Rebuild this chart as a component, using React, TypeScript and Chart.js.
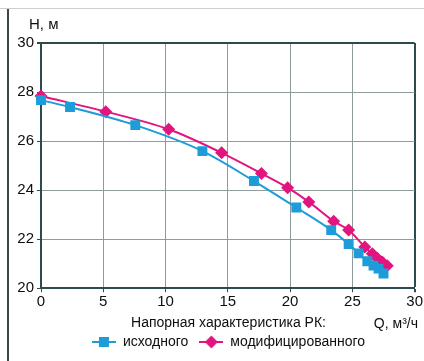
import React, { useEffect, useRef } from "react";
import { Chart, registerables } from "chart.js";

Chart.register(...registerables);

// ---- data ----
const qOriginal = [0, 2.33, 7.57, 12.96, 17.1, 20.5, 23.3, 24.7, 25.5, 26.2, 26.7, 27.1, 27.5];
const hOriginal = [27.67, 27.39, 26.65, 25.59, 24.37, 23.29, 22.37, 21.8, 21.42, 21.1, 20.92, 20.8, 20.6];
const qModified = [0, 5.2, 10.25, 14.5, 17.7, 19.8, 21.5, 23.5, 24.7, 26.0, 26.6, 27.0, 27.4, 27.8];
const hModified = [27.84, 27.2, 26.48, 25.52, 24.68, 24.1, 23.52, 22.73, 22.37, 21.68, 21.4, 21.22, 21.07, 20.92];
const xTicks = [0, 5, 10, 15, 20, 25, 30];
const yTicks = [20, 22, 24, 26, 28, 30];
const seriesLabels = ["исходного", "модифицированного"];
const legendTitle = "Напорная характеристика РК:";
const yAxisTitle = "H, м";
const xAxisTitle = "Q, м³/ч";

const BLUE = "#1c9cd8";
const PINK = "#e2147e";
const TEXT = "#0e0e0e";
const FONT = "'Liberation Sans', Arial, sans-serif";

function makeMarker(color: string, style: "rect" | "rectRot"): HTMLCanvasElement {
  const c = document.createElement("canvas");
  c.width = 24;
  c.height = 14;
  const ctx = c.getContext("2d")!;
  ctx.strokeStyle = color;
  ctx.lineWidth = 2;
  ctx.beginPath();
  ctx.moveTo(0, 7);
  ctx.lineTo(24, 7);
  ctx.stroke();
  ctx.fillStyle = color;
  if (style === "rect") {
    ctx.fillRect(12 - 5, 7 - 5, 10, 10);
  } else {
    ctx.beginPath();
    ctx.moveTo(12, 0.5);
    ctx.lineTo(18.5, 7);
    ctx.lineTo(12, 13.5);
    ctx.lineTo(5.5, 7);
    ctx.closePath();
    ctx.fill();
  }
  return c;
}

const axisTitlesPlugin = {
  id: "axisTitles",
  afterLayout(chart: any) {
    const lg = chart.legend;
    if (lg) {
      lg.left += 12;
      lg.right += 12;
    }
  },
  afterDraw(chart: any) {
    const ctx = chart.ctx;
    ctx.save();
    ctx.fillStyle = TEXT;
    ctx.font = `15px ${FONT}`;
    ctx.textBaseline = "middle";
    ctx.textAlign = "left";
    ctx.fillText(yAxisTitle, 29, 25);
    ctx.font = `14px ${FONT}`;
    ctx.textAlign = "right";
    ctx.fillText(xAxisTitle, 418, 324);
    ctx.restore();
  },
};

export default function App() {
  const ref = useRef<HTMLCanvasElement | null>(null);

  useEffect(() => {
    document.body.style.margin = "0";
    const markers = [makeMarker(BLUE, "rect"), makeMarker(PINK, "rectRot")];
    const gridColor = (c: any) => (c.tick && c.tick.value === 30 ? "#2f4a4a" : "#8e9c9c");
    const gridWidth = (c: any) => (c.tick && c.tick.value === 30 ? 2 : 1);

    const chart = new Chart(ref.current!, {
      type: "line",
      data: {
        datasets: [
          {
            label: seriesLabels[0],
            data: qOriginal.map((q, i) => ({ x: q, y: hOriginal[i] })),
            borderColor: BLUE,
            backgroundColor: BLUE,
            borderWidth: 2,
            pointStyle: "rect",
            pointRadius: 7,
            pointBorderWidth: 0,
            cubicInterpolationMode: "monotone",
            clip: 10,
          },
          {
            label: seriesLabels[1],
            data: qModified.map((q, i) => ({ x: q, y: hModified[i] })),
            borderColor: PINK,
            backgroundColor: PINK,
            borderWidth: 2,
            pointStyle: "rectRot",
            pointRadius: 6.5,
            pointBorderWidth: 0,
            cubicInterpolationMode: "monotone",
            clip: 10,
          },
        ],
      },
      options: {
        animation: false,
        responsive: false,
        layout: { padding: { top: 43, left: 17, right: 8, bottom: 2 } },
        scales: {
          x: {
            type: "linear",
            min: xTicks[0],
            max: xTicks[xTicks.length - 1],
            afterBuildTicks: (s: any) => {
              s.ticks = xTicks.map((v) => ({ value: v }));
            },
            afterFit: (s: any) => {
              s.height = 26;
            },
            ticks: { color: TEXT, font: { family: FONT, size: 15 }, padding: 1, maxRotation: 0 },
            grid: { color: gridColor, lineWidth: gridWidth, tickLength: 4, tickColor: "#2f4a4a" },
            border: { color: "#2f4a4a", width: 2 },
          },
          y: {
            type: "linear",
            min: yTicks[0],
            max: yTicks[yTicks.length - 1],
            afterBuildTicks: (s: any) => {
              s.ticks = yTicks.map((v) => ({ value: v }));
            },
            afterFit: (s: any) => {
              s.width = 24;
            },
            ticks: { color: TEXT, font: { family: FONT, size: 15 }, padding: 3 },
            grid: { color: gridColor, lineWidth: gridWidth, tickLength: 4, tickColor: "#2f4a4a" },
            border: { color: "#2f4a4a", width: 2 },
          },
        },
        plugins: {
          tooltip: { enabled: false },
          legend: {
            position: "bottom",
            title: {
              display: true,
              text: legendTitle,
              color: TEXT,
              font: { family: FONT, size: 14 },
              padding: { top: 2, bottom: -9 },
            },
            labels: {
              usePointStyle: true,
              pointStyleWidth: 24,
              boxHeight: 14,
              padding: 11,
              color: TEXT,
              font: { family: FONT, size: 14 },
              generateLabels: (ch: any) =>
                ch.data.datasets.map((ds: any, i: number) => ({
                  text: ds.label,
                  fillStyle: ds.backgroundColor,
                  strokeStyle: ds.borderColor,
                  lineWidth: 0,
                  pointStyle: markers[i],
                  hidden: false,
                  datasetIndex: i,
                  fontColor: TEXT,
                })),
            },
          },
        },
      },
      plugins: [axisTitlesPlugin],
    } as any);
    return () => chart.destroy();
  }, []);

  return (
    <div style={{ position: "absolute", left: 0, top: 0, width: 424, height: 361, background: "#fff" }}>
      <div style={{ position: "absolute", left: 0, top: 8, width: 424, height: 0, borderTop: "1px solid #cfcfcf" }} />
      <div style={{ position: "absolute", left: 7, top: 9, width: 0, height: 352, borderLeft: "2px solid #3c4646" }} />
      <canvas ref={ref} width={424} height={361} style={{ position: "absolute", left: 0, top: 0 }} />
    </div>
  );
}
